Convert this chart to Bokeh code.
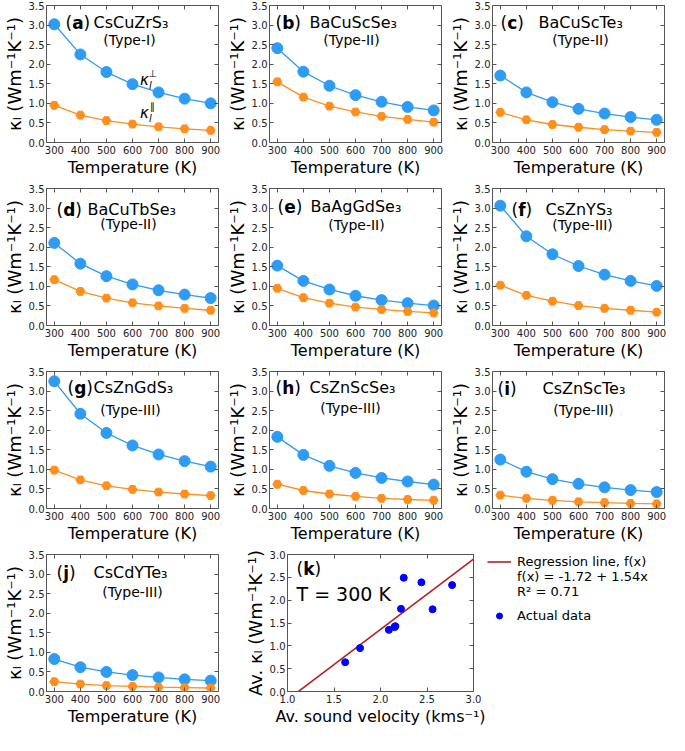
from bokeh.plotting import figure
from bokeh.layouts import row, column
from bokeh.models import Range1d, LinearAxis, Legend, LegendItem, FixedTicker, PrintfTickFormatter
from bokeh.core.properties import value
from bokeh.embed import file_html
from bokeh.resources import INLINE

# ---------------- data ----------------
temperature = [300, 400, 500, 600, 700, 800, 900]

a_perp = [3.02, 2.25, 1.80, 1.49, 1.28, 1.12, 1.00]
a_par = [0.95, 0.70, 0.56, 0.47, 0.40, 0.35, 0.31]
b_perp = [2.41, 1.81, 1.45, 1.21, 1.04, 0.91, 0.82]
b_par = [1.55, 1.16, 0.93, 0.78, 0.67, 0.59, 0.52]
c_perp = [1.71, 1.28, 1.03, 0.86, 0.74, 0.65, 0.58]
c_par = [0.77, 0.58, 0.46, 0.39, 0.33, 0.29, 0.26]
d_perp = [2.11, 1.58, 1.26, 1.05, 0.90, 0.79, 0.70]
d_par = [1.17, 0.87, 0.70, 0.58, 0.50, 0.44, 0.39]
e_perp = [1.53, 1.14, 0.92, 0.76, 0.65, 0.57, 0.51]
e_par = [0.95, 0.71, 0.57, 0.47, 0.41, 0.36, 0.32]
f_perp = [3.06, 2.28, 1.82, 1.52, 1.30, 1.14, 1.01]
f_par = [1.03, 0.77, 0.62, 0.51, 0.44, 0.39, 0.34]
g_perp = [3.25, 2.42, 1.93, 1.61, 1.38, 1.21, 1.07]
g_par = [0.98, 0.73, 0.58, 0.49, 0.42, 0.37, 0.33]
h_perp = [1.83, 1.37, 1.09, 0.91, 0.78, 0.69, 0.61]
h_par = [0.62, 0.46, 0.37, 0.31, 0.26, 0.23, 0.21]
i_perp = [1.25, 0.94, 0.75, 0.63, 0.54, 0.47, 0.42]
i_par = [0.34, 0.26, 0.21, 0.17, 0.15, 0.13, 0.12]
j_perp = [0.83, 0.62, 0.50, 0.42, 0.36, 0.31, 0.28]
j_par = [0.25, 0.19, 0.15, 0.13, 0.11, 0.10, 0.09]

letters = ["a", "b", "c", "d", "e", "f", "g", "h", "i", "j"]
compounds = ["CsCuZrS₃", "BaCuScSe₃", "BaCuScTe₃", "BaCuTbSe₃", "BaAgGdSe₃",
             "CsZnYS₃", "CsZnGdS₃", "CsZnScSe₃", "CsZnScTe₃", "CsCdYTe₃"]
types = ["(Type-I)", "(Type-II)", "(Type-II)", "(Type-II)", "(Type-II)",
         "(Type-III)", "(Type-III)", "(Type-III)", "(Type-III)", "(Type-III)"]
perp_series = [a_perp, b_perp, c_perp, d_perp, e_perp, f_perp, g_perp, h_perp, i_perp, j_perp]
par_series = [a_par, b_par, c_par, d_par, e_par, f_par, g_par, h_par, i_par, j_par]

temp_ticks = [300, 400, 500, 600, 700, 800, 900]
kappa_ticks = [0.0, 0.5, 1.0, 1.5, 2.0, 2.5, 3.0, 3.5]

# panel (k)
sound_velocity = [1.62, 1.78, 2.09, 2.15, 2.16, 2.22, 2.25, 2.44, 2.56, 2.77]
avg_kappa = [0.64, 0.95, 1.35, 1.41, 1.43, 1.81, 2.49, 2.39, 1.80, 2.33]
reg_intercept = -1.72
reg_slope = 1.54
reg_x = [1.0, 3.0]
vel_ticks = [1.0, 1.5, 2.0, 2.5, 3.0]
avg_ticks = [0.0, 0.5, 1.0, 1.5, 2.0, 2.5, 3.0]
legend_labels = ["Regression line, f(x)", "f(x) = -1.72 + 1.54x", "R² = 0.71", "Actual data"]

# ---------------- styling / layout ----------------
FONT = "DejaVu Sans"
BLUE = "#2e9bf5"
ORANGE = "#ff8f1c"
RED = "#b22222"
FRAME = "#555555"
W, H = 223, 183
BL, BR, BT, BB = 38, 5, 5, 41

# title placement (pixels from frame top-left): paren x, name x, name y, type centre x, type y
title_pos = [
    (19, 47, 17, 83, 34), (6, 40, 17, 82, 34), (8, 46, 17, 88, 34),
    (10, 41, 21, 82, 35), (8, 41, 18, 87, 36), (19, 53, 21, 90, 36),
    (21, 47, 16, 84, 38), (6, 40, 16, 81, 36), (5, 50, 17, 91, 38),
    (10, 47, 18, 86, 37),
]
bold_w = {"a": .675, "b": .716, "c": .593, "d": .716, "e": .678, "f": .435,
          "g": .716, "h": .712, "i": .343, "j": .343, "k": .665}


def add_text(p, x, y, txt, dx, dy, size, style="normal", align="left", baseline="middle"):
    p.text(x=[x], y=[y], text=[txt], x_offset=dx, y_offset=dy,
           text_font=value(FONT), text_font_size=f"{size}px", text_font_style=style,
           text_align=align, text_baseline=baseline, text_color="black")


def add_letter(p, x, y, letter, dx, dy, size=17):
    pw = 0.39 * size
    lw = bold_w[letter] * size
    add_text(p, x, y, "(", dx, dy, size)
    add_text(p, x, y, letter, dx + pw, dy, size, style="bold")
    add_text(p, x, y, ")", dx + pw + lw, dy, size)


def style_axes(p, xticks, yticks, xfmt, yfmt, xlabel, ylabel, xl_size=16, yl_size=18):
    xa = LinearAxis(ticker=FixedTicker(ticks=xticks), formatter=PrintfTickFormatter(format=xfmt),
                    axis_label=xlabel)
    ya = LinearAxis(ticker=FixedTicker(ticks=yticks), formatter=PrintfTickFormatter(format=yfmt),
                    axis_label=ylabel)
    xt = LinearAxis(ticker=FixedTicker(ticks=xticks))
    yr = LinearAxis(ticker=FixedTicker(ticks=yticks))
    for ax in (xa, ya, xt, yr):
        ax.axis_line_color = None
        ax.major_tick_in = 4
        ax.major_tick_out = 0
        ax.major_tick_line_color = FRAME
        ax.minor_tick_line_color = None
        ax.major_label_text_font = FONT
        ax.major_label_text_font_size = "10px"
        ax.major_label_text_color = "#222222"
        ax.axis_label_text_font = FONT
        ax.axis_label_text_font_style = "normal"
        ax.axis_label_text_color = "black"
    for ax in (xt, yr):
        ax.major_label_text_font_size = "1px"
        ax.major_label_text_color = None
        ax.major_label_standoff = 0
        ax.axis_label = None
        ax.axis_label_standoff = 0
    xa.major_label_standoff = 3
    ya.major_label_standoff = 2
    xa.axis_label_standoff = 1
    ya.axis_label_standoff = 1
    xa.axis_label_text_font_size = f"{xl_size}px"
    ya.axis_label_text_font_size = f"{yl_size}px"
    p.add_layout(xa, "below")
    p.add_layout(ya, "left")
    p.add_layout(xt, "above")
    p.add_layout(yr, "right")


def base_figure(width, xr, yr, left, right):
    p = figure(width=width, height=H, x_range=xr, y_range=yr,
               output_backend="svg", toolbar_location=None,
               x_axis_location=None, y_axis_location=None,
               min_border_left=left, min_border_right=right, min_border_top=BT, min_border_bottom=BB)
    p.grid.visible = False
    p.outline_line_color = FRAME
    p.outline_line_width = 1
    p.background_fill_color = "white"
    p.border_fill_color = "white"
    return p


def temp_panel(idx):
    p = base_figure(W, Range1d(270, 930), Range1d(0, 3.5), BL, BR)
    style_axes(p, temp_ticks, kappa_ticks, "%d", "%.1f", "Temperature (K)", "κₗ (Wm⁻¹K⁻¹)")
    p.line(temperature, perp_series[idx], color=BLUE, line_width=1.3)
    p.scatter(temperature, perp_series[idx], size=11, color=BLUE)
    p.line(temperature, par_series[idx], color=ORANGE, line_width=1.3)
    p.scatter(temperature, par_series[idx], size=9, marker="hex", color=ORANGE)
    x0, y0 = 270, 3.5
    px, nx, ny, tx, ty = title_pos[idx]
    add_letter(p, x0, y0, letters[idx], px, ny)
    add_text(p, x0, y0, compounds[idx], nx, ny, 16)
    add_text(p, x0, y0, types[idx], tx, ty, 14, align="center")
    if idx == 0:
        for (kdy, sup) in ((74, "⊥"), (107, "∥")):
            add_text(p, x0, y0, "κ", 98, kdy, 15, style="italic", align="center")
            add_text(p, x0, y0, "l", 104, kdy + 6, 10, style="italic", align="center")
            add_text(p, x0, y0, sup, 106, kdy - 6, 10, align="center")
    return p


panels = [temp_panel(i) for i in range(10)]

# ---------------- panel (k) ----------------
KL, KF, KR = 64, 186, 14
KW = KL + KF + KR
pk = base_figure(KW, Range1d(1.0, 3.0), Range1d(0, 3.0), KL, KR)
style_axes(pk, vel_ticks, avg_ticks, "%.1f", "%.1f", "Av. sound velocity (kms⁻¹)", "Av. κₗ (Wm⁻¹K⁻¹)",
           xl_size=16, yl_size=18)
reg_y = [reg_intercept + reg_slope * x for x in reg_x]
pk.line(reg_x, reg_y, color=RED, line_width=1.6)
pk.scatter(sound_velocity, avg_kappa, size=7, color="blue")
add_letter(pk, 1.0, 3.0, "k", 9, 14)
add_text(pk, 1.0, 3.0, "T = 300 K", 9, 39, 19)

# legend of panel (k), drawn beside it (its renderers sit outside the visible range)
LW = 3 * W - W - KW
pl = figure(width=LW, height=H, x_range=Range1d(10, 11), y_range=Range1d(10, 11),
            output_backend="svg", toolbar_location=None,
            x_axis_location=None, y_axis_location=None, min_border=0)
pl.grid.visible = False
pl.outline_line_color = None
leg_line = pl.line(reg_x, reg_y, color=RED, line_width=1.6)
leg_blank1 = pl.line(reg_x, reg_y, line_alpha=0)
leg_blank2 = pl.line(reg_x, reg_y, line_alpha=0)
leg_pts = pl.scatter(sound_velocity, avg_kappa, size=7, color="blue")


def style_legend(lg):
    lg.border_line_color = None
    lg.background_fill_alpha = 0
    lg.label_text_font = FONT
    lg.label_text_font_size = "13px"
    lg.label_text_color = "black"
    lg.label_height = 15
    lg.glyph_height = 15
    lg.glyph_width = 24
    lg.spacing = 0
    lg.padding = 0
    lg.margin = 0
    lg.label_standoff = 6


FH = 134  # frame height of the legend panel (aligned with panel k)
legend1 = Legend(items=[
    LegendItem(label=legend_labels[0], renderers=[leg_line]),
    LegendItem(label=legend_labels[1], renderers=[leg_blank1]),
    LegendItem(label=legend_labels[2], renderers=[leg_blank2]),
], location="top_left")
legend2 = Legend(items=[
    LegendItem(label=legend_labels[3], renderers=[leg_pts]),
], location=(0, FH - 66))
style_legend(legend1)
style_legend(legend2)
pl.add_layout(legend1)
pl.add_layout(legend2)

layout = column(
    row(panels[0], panels[1], panels[2]),
    row(panels[3], panels[4], panels[5]),
    row(panels[6], panels[7], panels[8]),
    row(panels[9], pk, pl),
)

open("out.html", "w").write(file_html(layout, INLINE))
